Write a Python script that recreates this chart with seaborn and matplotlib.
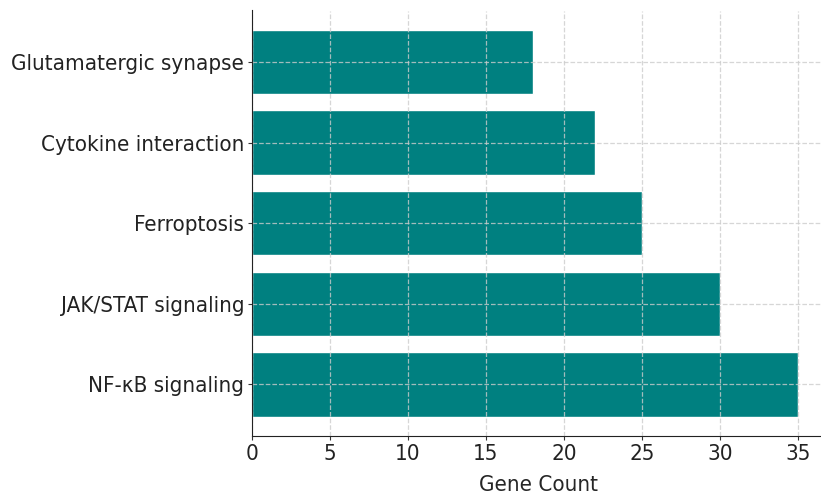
import matplotlib
matplotlib.use("Agg")
import matplotlib.pyplot as plt
import seaborn as sns
import pandas as pd

pathways = ["Glutamatergic synapse", "Cytokine interaction", "Ferroptosis",
            "JAK/STAT signaling", "NF-κB signaling"]
gene_counts = [18, 22, 25, 30, 35]

df = pd.DataFrame({"Pathway": pathways, "Gene Count": gene_counts})

sns.set_style("ticks")
plt.rcParams["font.family"] = ["DejaVu Sans"]
plt.rcParams["font.stretch"] = "condensed"
plt.rcParams["text.color"] = "#222222"
plt.rcParams["xtick.labelcolor"] = "#222222"
plt.rcParams["ytick.labelcolor"] = "#222222"

fig = plt.figure(figsize=(8.21, 4.95), dpi=100)
ax = fig.add_axes([252 / 821, 1 - 436 / 495, (825 - 252) / 821, (436 - 10.5) / 495])

sns.barplot(data=df, y="Pathway", x="Gene Count", orient="h", color="teal",
            saturation=1, width=0.8, ax=ax)
ax.set_xlim(0, 36.75)
ax.set_ylim(4.64, -0.64)
ax.grid(True, linestyle="--", color="#cccccc", linewidth=0.9, alpha=0.8)
ax.set_axisbelow("line")
sns.despine(ax=ax, top=True, right=True)
for s in ["left", "bottom"]:
    ax.spines[s].set_color("#222222")
    ax.spines[s].set_zorder(3)
ax.set_ylabel("")
ax.set_xlabel("Gene Count", fontsize=16, labelpad=8)
ax.tick_params(axis="both", labelsize=16, length=3, pad=2.5, color="#333333")
ax.set_xticks(range(0, 36, 5))

fig.savefig("out.png", dpi=100)
